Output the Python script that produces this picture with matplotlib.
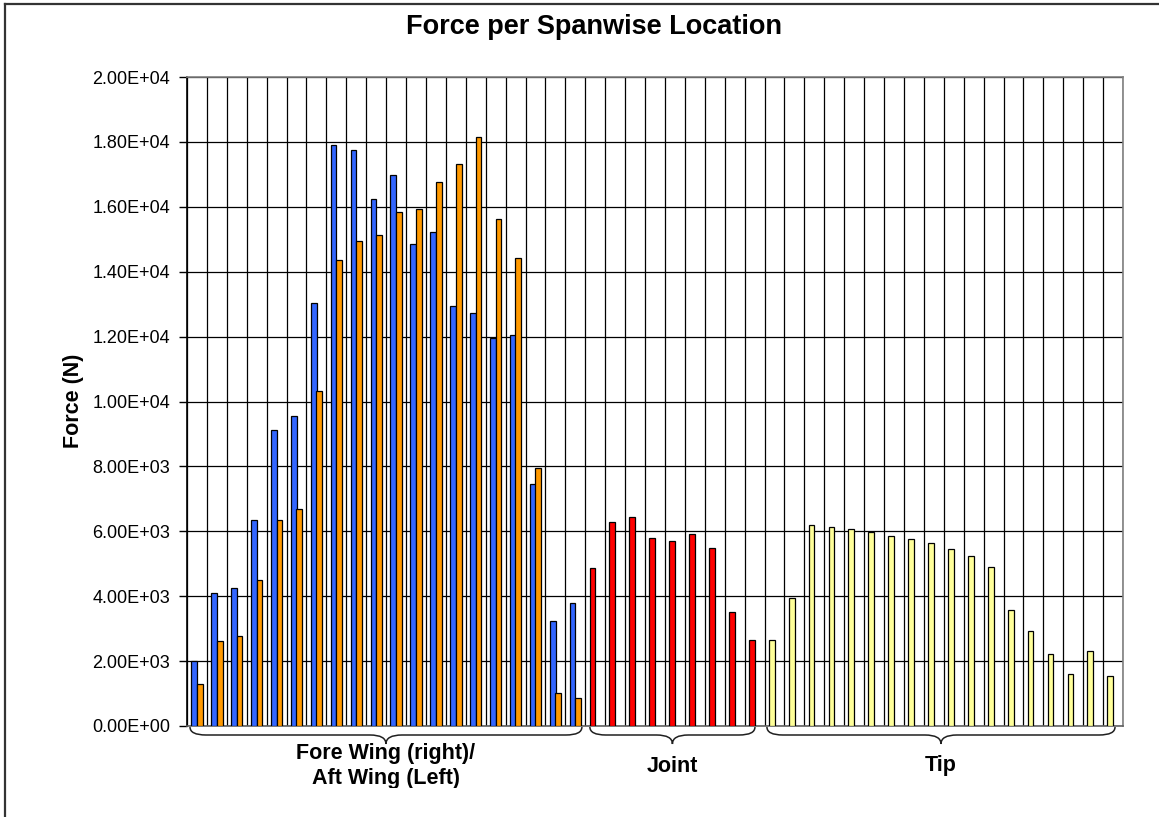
import matplotlib
matplotlib.use("Agg")
import matplotlib.pyplot as plt
import matplotlib.ticker as ticker
from matplotlib.path import Path
from matplotlib.patches import PathPatch
from matplotlib.transforms import Bbox, TransformedBbox, blended_transform_factory
import numpy as np

plt.rcParams['font.family'] = ['Liberation Sans', 'DejaVu Sans']

# force per spanwise station (N)
fore = [1993, 4089, 4263, 6339, 9123, 9564, 13047, 17906, 17742, 16242,
        16992, 14845, 15236, 12955, 12738, 11948, 12062, 7458, 3246, 3801]
aft = [1304, 2630, 2774, 4500, 6359, 6678, 10324, 14362, 14938, 15132,
       15842, 15945, 16777, 17310, 18163, 15616, 14434, 7941, 1027, 853]
joint = [4880, 6297, 6441, 5805, 5692, 5928, 5476, 3513, 2661]
tip = [2651, 3935, 6205, 6143, 6071, 5969, 5866, 5774, 5640, 5465,
       5240, 4900, 3575, 2938, 2219, 1603, 2312, 1541]
groups = ["Fore Wing (right)/\nAft Wing (Left)", "Joint", "Tip"]

W, H = 1159, 817
fig = plt.figure(figsize=(W/100, H/100), dpi=100)
def px(x, y): return x/W, 1-y/H

ax = fig.add_axes([187/W, 1-726/H, (1123-187)/W, (726-77)/H])

n_fore, n_joint, n_tip = len(fore), len(joint), len(tip)
ntot = n_fore+n_joint+n_tip
xf = np.arange(n_fore)
xj = np.arange(n_joint)+n_fore
xt = np.arange(n_tip)+n_fore+n_joint

bw = 0.29
off = 0.14
ek = dict(edgecolor='black', linewidth=0.9, zorder=3)
ax.bar(xf-off, fore, bw, color='#3366FF', **ek)
ax.bar(xf+off, aft, bw, color='#FF9900', **ek)
ax.bar(xj-off, joint, bw, color='#FF0000', **ek)
ax.bar(xt-off, tip, bw, color='#FFFF99', **ek)

ax.set_xlim(-0.5, ntot-0.5)
ax.set_ylim(0, 20000)
ax.set_yticks(np.arange(0, 20001, 2000))
ax.yaxis.set_major_formatter(ticker.FuncFormatter(lambda v, p: f"{v:.2E}"))
ax.set_xticks(np.arange(-0.5, ntot, 1.0))
ax.set_xticklabels([])
ax.tick_params(axis='x', length=0)
ax.tick_params(axis='y', labelsize=13, length=6, width=1, pad=6, direction='out')
ax.grid(True, color='black', linewidth=0.9)
ax.set_axisbelow(True)
for s in ['top', 'right']:
    ax.spines[s].set_color('#808080')
ax.spines['left'].set_color('black')
ax.spines['bottom'].set_color('#606060')
for s in ax.spines.values():
    s.set_linewidth(1.2)

fig.text(*px(594, 27), "Force per Spanwise Location", fontsize=19.5,
         fontweight='bold', ha='center', va='center')
fig.text(*px(74, 401), "Force (N)", fontsize=15.5, fontweight='bold',
         rotation=90, ha='center', va='center')

# braces under the category groups
tr = blended_transform_factory(ax.transData, fig.transFigure)
def brace(x0, x1):
    xm = (x0+x1)/2
    h = 0.8
    ya, yb, yc = px(0, 727)[1], px(0, 735)[1], px(0, 744)[1]
    verts = [(x0, ya), (x0, yb), (x0+h, yb), (xm-h, yb), (xm, yb), (xm, yc),
             (xm, yb), (xm+h, yb), (x1-h, yb), (x1, yb), (x1, ya)]
    codes = [Path.MOVETO, Path.CURVE3, Path.CURVE3, Path.LINETO, Path.CURVE3, Path.CURVE3,
             Path.CURVE3, Path.CURVE3, Path.LINETO, Path.CURVE3, Path.CURVE3]
    p = PathPatch(Path(verts, codes), facecolor='none', edgecolor='#202020',
                  linewidth=1.1, transform=tr, clip_on=False)
    fig.add_artist(p)
    return xm

spans = [(-0.35, n_fore-1+0.33), (n_fore-0.27, n_fore+n_joint-1+0.02),
         (n_fore+n_joint-0.38, ntot-1+0.1)]
clip = TransformedBbox(Bbox.from_extents(0, 1-788/H, 1, 1), fig.transFigure)
for (a, b), lab in zip(spans, groups):
    xm = brace(a, b)
    t = fig.text(xm, px(0, 766)[1], lab, transform=tr, fontsize=15.5,
                 fontweight='bold', ha='center', va='center', linespacing=1.3)
    t.set_clip_box(clip)
    t.set_clip_on(True)

# chart frame (cropped on right and bottom)
fig.add_artist(plt.Line2D([4.5/W, 4.5/W], [0, 1-3.5/H], color='#333333',
                          linewidth=1.6, transform=fig.transFigure))
fig.add_artist(plt.Line2D([4.5/W, 1], [1-3.5/H, 1-3.5/H], color='#333333',
                          linewidth=1.6, transform=fig.transFigure))

fig.savefig("out.png", dpi=100)
